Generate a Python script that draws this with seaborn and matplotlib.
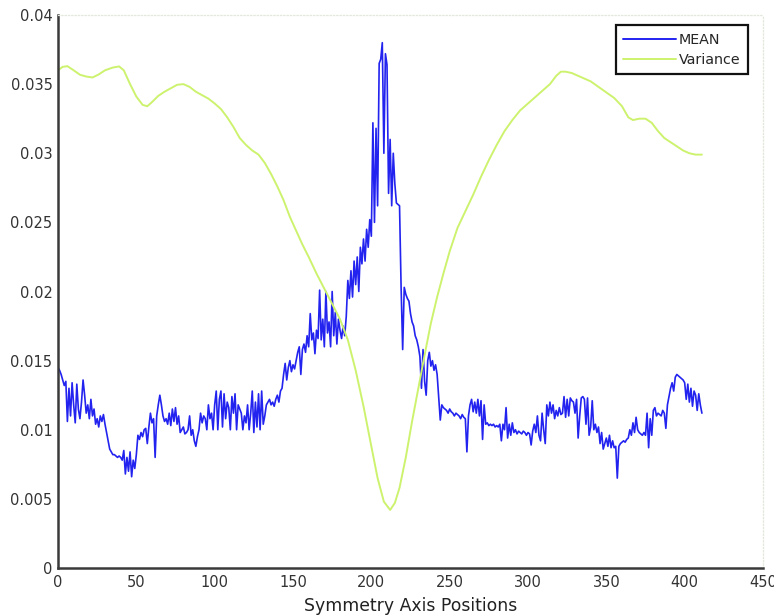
import numpy as np
import pandas as pd
import matplotlib
matplotlib.use("Agg")
import matplotlib.pyplot as plt
from matplotlib.ticker import FuncFormatter
import seaborn as sns

# Mean profile along the symmetry axis, in units of 1e-4 (one value per position 0..411)
mean_e4 = [
    145, 143, 140, 136, 132, 135, 106, 130, 110, 134, 118,
    105, 133, 115, 108, 120, 136, 125, 112, 118, 108,
    122, 110, 115, 104, 108, 102, 110, 106, 111, 104,
    98, 92, 86, 84, 82, 82, 81, 80, 81, 80,
    78, 85, 68, 80, 70, 84, 66, 78, 72, 82,
    96, 93, 98, 95, 100, 101, 90, 102, 112, 105,
    108, 80, 110, 118, 125, 118, 110, 106, 108, 104,
    112, 103, 115, 106, 116, 104, 110, 98, 100, 102,
    97, 98, 100, 110, 96, 100, 92, 88, 95, 100,
    112, 105, 110, 108, 100, 118, 108, 112, 100, 118,
    128, 100, 122, 128, 102, 126, 108, 120, 116, 100,
    124, 112, 126, 100, 118, 115, 112, 100, 110, 105,
    118, 100, 112, 128, 98, 120, 102, 126, 100, 128,
    104, 110, 118, 120, 122, 118, 120, 117, 122, 125,
    120, 128, 130, 140, 148, 136, 145, 150, 142, 147,
    144, 150, 156, 160, 140, 158, 162, 156, 168, 160,
    184, 165, 170, 155, 172, 166, 201, 165, 180, 160,
    200, 170, 178, 160, 200, 168, 185, 162, 180, 172,
    166, 175, 168, 182, 208, 195, 215, 196, 222, 205,
    225, 200, 232, 220, 238, 222, 245, 232, 252, 240,
    322, 250, 318, 262, 365, 368, 380, 300, 372, 364,
    271, 310, 262, 300, 278, 264, 263, 262, 203, 158,
    203, 198, 195, 193, 184, 178, 175, 168, 165, 160,
    153, 130, 158, 135, 125, 150, 156, 146, 150, 143,
    147, 140, 124, 107, 118, 116, 115, 114, 112, 115,
    113, 112, 110, 112, 111, 110, 108, 111, 109, 108,
    84, 110, 118, 122, 113, 120, 112, 122, 110, 121,
    93, 118, 104, 105, 103, 104, 103, 104, 102, 103,
    102, 104, 92, 104, 100, 116, 94, 104, 96, 105,
    98, 100, 97, 99, 98, 97, 99, 98, 96, 98,
    97, 89, 99, 104, 98, 110, 96, 92, 112, 100,
    90, 118, 110, 120, 112, 118, 108, 114, 110, 116,
    111, 112, 124, 109, 122, 110, 123, 121, 120, 112,
    122, 94, 110, 123, 124, 122, 104, 123, 96, 102,
    121, 100, 104, 98, 102, 90, 98, 86, 90, 94,
    88, 96, 87, 92, 87, 88, 65, 88, 90, 91,
    92, 91, 93, 94, 100, 96, 105, 98, 109, 100,
    98, 97, 96, 98, 96, 112, 87, 108, 96, 114,
    116, 110, 112, 111, 110, 114, 112, 101, 118, 124,
    130, 134, 128, 138, 140, 139, 138, 137, 136, 134,
    122, 133, 120, 130, 117, 128, 125, 114, 126, 118,
    112,
]
mean_x = list(range(len(mean_e4)))

# Variance profile sampled at selected positions
var_x = [0, 3, 6, 10, 14, 18, 22, 26, 30, 35, 39, 42, 46, 50, 54, 57, 60, 64, 68, 72,
         76, 80, 84, 88, 92, 96, 100, 104, 108, 112, 116, 120, 124, 128, 132, 136, 140,
         144, 148, 152, 156, 160, 165, 170, 175, 180, 185, 190, 195, 200, 204, 208, 212,
         215, 218, 222, 226, 230, 234, 238, 242, 246, 250, 255, 260, 265, 270, 275, 280,
         285, 290, 295, 300, 305, 310, 314, 318, 321, 324, 328, 332, 336, 340, 345, 350,
         355, 360, 364, 367, 371, 375, 379, 383, 387, 391, 395, 399, 403, 407, 411]
var_y = [0.0360, 0.03625, 0.0363, 0.0360, 0.03568, 0.03555, 0.03548, 0.0357, 0.0360,
         0.0362, 0.03628, 0.0360, 0.0350, 0.0341, 0.0335, 0.0334, 0.0337, 0.03415,
         0.03445, 0.0347, 0.03495, 0.0350, 0.0348, 0.03445, 0.0342, 0.03395, 0.0336,
         0.0332, 0.0326, 0.0319, 0.0311, 0.0306, 0.0302, 0.0299, 0.0293, 0.0285, 0.0276,
         0.0266, 0.0254, 0.0244, 0.0234, 0.0225, 0.0213, 0.0202, 0.0191, 0.0180, 0.0165,
         0.0143, 0.0117, 0.0088, 0.0065, 0.0048, 0.0042, 0.0047, 0.0058, 0.0080, 0.0106,
         0.0130, 0.0154, 0.0177, 0.0196, 0.0213, 0.0229, 0.0246, 0.0258, 0.0270, 0.0283,
         0.0295, 0.0306, 0.0316, 0.0324, 0.0331, 0.0336, 0.0341, 0.0346, 0.0350, 0.0356,
         0.0359, 0.0359, 0.0358, 0.0356, 0.0354, 0.0352, 0.0348, 0.0344, 0.0340, 0.0334,
         0.0326, 0.0324, 0.0325, 0.0325, 0.0322, 0.0316, 0.0311, 0.0308, 0.0305, 0.0302,
         0.0300, 0.0299, 0.0299]

x_ticks = [0, 50, 100, 150, 200, 250, 300, 350, 400, 450]
y_ticks = [0, 0.005, 0.01, 0.015, 0.02, 0.025, 0.03, 0.035, 0.04]

mean_df = pd.DataFrame({"pos": mean_x, "value": np.array(mean_e4) * 1e-4})
var_df = pd.DataFrame({"pos": var_x, "value": var_y})

sns.set_style("white")
plt.rcParams["font.family"] = ["DejaVu Sans"]

fig = plt.figure(figsize=(7.74, 6.16), dpi=100)
ax = fig.add_axes([58 / 774, 48 / 616, 705 / 774, 553 / 616])

blue = "#2323f0"
lime = "#cdf26e"
sns.lineplot(data=mean_df, x="pos", y="value", ax=ax, color=blue, lw=1.2,
             label="MEAN", sort=False)
sns.lineplot(data=var_df, x="pos", y="value", ax=ax, color=lime, lw=1.4,
             label="Variance", sort=False)

ax.set_xlim(0, 450)
ax.set_ylim(0, 0.04)
ax.set_xticks(x_ticks)
ax.set_yticks(y_ticks)
ax.yaxis.set_major_formatter(FuncFormatter(lambda v, p: f"{v:g}"))
ax.tick_params(direction="in", length=5, width=1.3, color="#333333",
               labelsize=10.5, labelcolor="#333333")
ax.tick_params(axis="x", pad=5)
ax.tick_params(axis="y", pad=4)

ax.set_xlabel("Symmetry Axis Positions", fontsize=12.4, color="#222222", labelpad=5)
ax.set_ylabel("")

for side in ("left", "bottom"):
    ax.spines[side].set_color("#3a3a3a")
    ax.spines[side].set_linewidth(1.8)
for side in ("top", "right"):
    ax.spines[side].set_color("#e2e8dc")
    ax.spines[side].set_linewidth(0.9)
    ax.spines[side].set_linestyle(":")

leg = ax.legend(loc="upper right", bbox_to_anchor=((748 - 58) / 705, (568 - 25) / 553),
                borderaxespad=0, fontsize=10.3, handlelength=3.7, handletextpad=0.15,
                borderpad=0.55, labelspacing=0.4, frameon=True, fancybox=False)
frame = leg.get_frame()
frame.set_edgecolor("#111111")
frame.set_linewidth(1.6)
frame.set_facecolor("white")
frame.set_alpha(1)
for line in leg.get_lines():
    line.set_linewidth(1.4)

fig.savefig("out.png", dpi=100)
